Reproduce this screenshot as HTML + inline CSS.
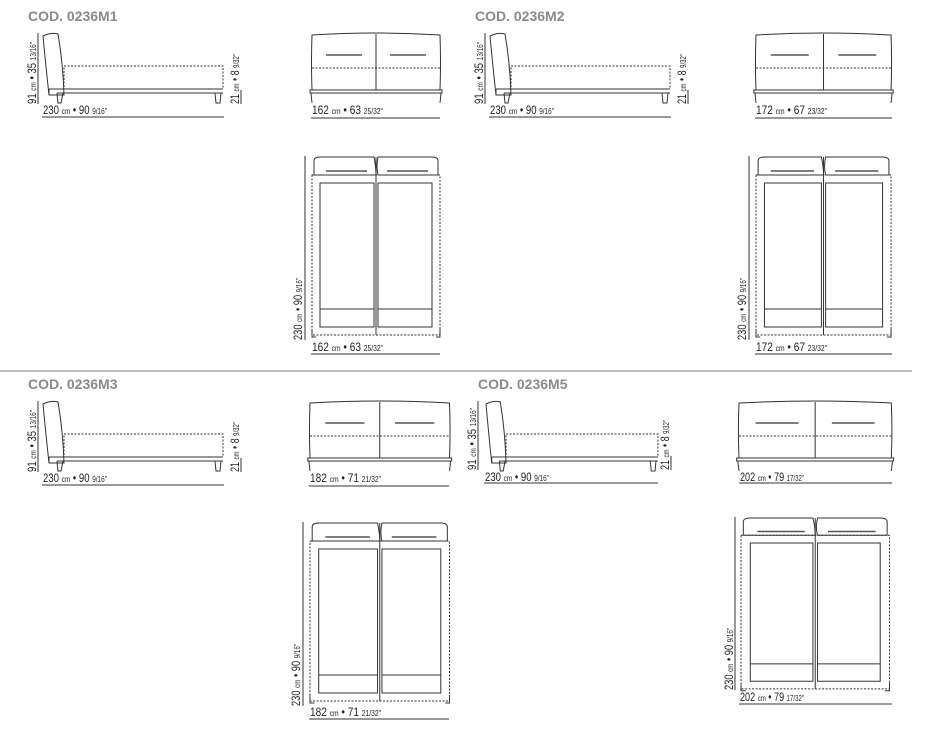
<!DOCTYPE html>
<html><head><meta charset="utf-8"><style>
html,body{margin:0;padding:0;background:#fff;}
svg{display:block;font-family:"Liberation Sans",sans-serif;}
.t{font-weight:bold;font-size:14px;fill:#8a8a8a;}
.d{font-size:12px;fill:#222;}
.s{font-size:8px;}
.l{stroke:#333;stroke-width:1;fill:none;vector-effect:non-scaling-stroke;}
.dot{stroke:#333;stroke-width:1;fill:none;stroke-dasharray:2 1.5;vector-effect:non-scaling-stroke;}
.h{stroke:#555;stroke-width:1.5;fill:none;vector-effect:non-scaling-stroke;}
</style></head><body>
<svg width="925" height="729" viewBox="0 0 925 729">
<defs>
<g id="side">
<path class="l" d="M0,3 Q8,-1 15,1 Q20,30 21,62 L6,62 Q3,35 0,3 Z"/>
<rect class="dot" x="21" y="33" width="159" height="23"/>
<path class="l" d="M6,56 L180,56 M14,60 L180,60 M6,62 L6,56"/>
<path class="l" d="M14,60 L15,70 L18,70 L20,60 M172,60 L173,70 L177,70 L178,60"/>
</g>
<g id="front">
<path class="l" d="M0,2 Q64,-2 128,2 Q129,30 128,57 L0,57 Q-1,30 0,2 Z M64,1 L64,57"/>
<path class="h" d="M14,22 L50,22 M78,22 L114,22"/>
<path class="dot" d="M0,35 L128,35"/>
<path class="l" d="M-2,57 L130,57 L130,60 L-2,60 Z M-1,60 L0,70 M129,60 L128,70"/>
</g>
<g id="top">
<path class="l" d="M2,4 Q2,0 8,0 L62,0 Q64,10 64,18 L2,18 Z M66,18 Q64,10 66,0 L120,0 Q126,0 126,4 L126,18 Z"/>
<path class="h" d="M14,14 L55,14 M75,14 L116,14"/>
<rect class="dot" x="0" y="18" width="128" height="160"/>
<path class="l" d="M8,26 L62,26 L62,170 L8,170 Z M66,26 L120,26 L120,170 L66,170 Z M8,152 L62,152 M66,152 L120,152 M64,0 L64,178"/>
<path class="l" d="M0,172 L0,180 L4,180 M128,172 L128,180 L124,180"/>
</g>
</defs>

<!-- M1 -->
<text class="t" x="28" y="21">COD. 0236M1</text>
<use href="#side" x="43" y="33"/>
<line class="l" x1="38" y1="33" x2="38" y2="104"/>
<text class="d" transform="translate(36,104) rotate(-90)" textLength="62" lengthAdjust="spacingAndGlyphs">91 <tspan class="s">cm</tspan> • 35 <tspan class="s">13/16"</tspan></text>
<text class="d" transform="translate(239,104) rotate(-90)" textLength="50" lengthAdjust="spacingAndGlyphs">21 <tspan class="s">cm</tspan> • 8 <tspan class="s">9/32"</tspan></text>
<line class="l" x1="241" y1="90" x2="241" y2="104"/>
<text class="d" x="43" y="114" textLength="64" lengthAdjust="spacingAndGlyphs">230 <tspan class="s">cm</tspan> • 90 <tspan class="s">9/16"</tspan></text>
<line class="l" x1="42" y1="117" x2="224" y2="117"/>
<use href="#front" transform="translate(312,33)"/>
<text class="d" x="312" y="114" textLength="71" lengthAdjust="spacingAndGlyphs">162 <tspan class="s">cm</tspan> • 63 <tspan class="s">25/32"</tspan></text>
<line class="l" x1="311" y1="118" x2="440" y2="118"/>
<use href="#top" transform="translate(312,157)"/>
<line class="l" x1="305" y1="156" x2="305" y2="340"/>
<text class="d" transform="translate(302,340) rotate(-90)" textLength="62" lengthAdjust="spacingAndGlyphs">230 <tspan class="s">cm</tspan> • 90 <tspan class="s">9/16"</tspan></text>
<text class="d" x="312" y="351" textLength="71" lengthAdjust="spacingAndGlyphs">162 <tspan class="s">cm</tspan> • 63 <tspan class="s">25/32"</tspan></text>
<line class="l" x1="311" y1="354" x2="440" y2="354"/>

<!-- M2 -->
<text class="t" x="475" y="21">COD. 0236M2</text>
<use href="#side" x="490" y="33"/>
<line class="l" x1="485" y1="33" x2="485" y2="104"/>
<text class="d" transform="translate(483,104) rotate(-90)" textLength="62" lengthAdjust="spacingAndGlyphs">91 <tspan class="s">cm</tspan> • 35 <tspan class="s">13/16"</tspan></text>
<text class="d" transform="translate(686,104) rotate(-90)" textLength="50" lengthAdjust="spacingAndGlyphs">21 <tspan class="s">cm</tspan> • 8 <tspan class="s">9/32"</tspan></text>
<line class="l" x1="688" y1="90" x2="688" y2="104"/>
<text class="d" x="490" y="114" textLength="64" lengthAdjust="spacingAndGlyphs">230 <tspan class="s">cm</tspan> • 90 <tspan class="s">9/16"</tspan></text>
<line class="l" x1="489" y1="117" x2="671" y2="117"/>
<use href="#front" transform="translate(756,33) scale(1.055,1)"/>
<text class="d" x="756" y="114" textLength="71" lengthAdjust="spacingAndGlyphs">172 <tspan class="s">cm</tspan> • 67 <tspan class="s">23/32"</tspan></text>
<line class="l" x1="755" y1="118" x2="892" y2="118"/>
<use href="#top" transform="translate(756,157) scale(1.055,1)"/>
<line class="l" x1="749" y1="156" x2="749" y2="340"/>
<text class="d" transform="translate(746,340) rotate(-90)" textLength="62" lengthAdjust="spacingAndGlyphs">230 <tspan class="s">cm</tspan> • 90 <tspan class="s">9/16"</tspan></text>
<text class="d" x="756" y="351" textLength="71" lengthAdjust="spacingAndGlyphs">172 <tspan class="s">cm</tspan> • 67 <tspan class="s">23/32"</tspan></text>
<line class="l" x1="755" y1="354" x2="892" y2="354"/>

<line x1="0" y1="371" x2="912" y2="371" stroke="#bbb" stroke-width="2"/>

<!-- M3 -->
<text class="t" x="28" y="389">COD. 0236M3</text>
<use href="#side" x="43" y="401"/>
<line class="l" x1="38" y1="401" x2="38" y2="472"/>
<text class="d" transform="translate(36,472) rotate(-90)" textLength="62" lengthAdjust="spacingAndGlyphs">91 <tspan class="s">cm</tspan> • 35 <tspan class="s">13/16"</tspan></text>
<text class="d" transform="translate(239,472) rotate(-90)" textLength="50" lengthAdjust="spacingAndGlyphs">21 <tspan class="s">cm</tspan> • 8 <tspan class="s">9/32"</tspan></text>
<line class="l" x1="241" y1="458" x2="241" y2="472"/>
<text class="d" x="43" y="482" textLength="64" lengthAdjust="spacingAndGlyphs">230 <tspan class="s">cm</tspan> • 90 <tspan class="s">9/16"</tspan></text>
<line class="l" x1="42" y1="485" x2="224" y2="485"/>
<use href="#front" transform="translate(310,401) scale(1.09,1)"/>
<text class="d" x="310" y="482" textLength="71" lengthAdjust="spacingAndGlyphs">182 <tspan class="s">cm</tspan> • 71 <tspan class="s">21/32"</tspan></text>
<line class="l" x1="309" y1="486" x2="449" y2="486"/>
<use href="#top" transform="translate(310,523) scale(1.09,1)"/>
<line class="l" x1="303" y1="522" x2="303" y2="706"/>
<text class="d" transform="translate(300,706) rotate(-90)" textLength="62" lengthAdjust="spacingAndGlyphs">230 <tspan class="s">cm</tspan> • 90 <tspan class="s">9/16"</tspan></text>
<text class="d" x="310" y="716" textLength="71" lengthAdjust="spacingAndGlyphs">182 <tspan class="s">cm</tspan> • 71 <tspan class="s">21/32"</tspan></text>
<line class="l" x1="309" y1="719" x2="449" y2="719"/>

<!-- M5 -->
<text class="t" x="478" y="389">COD. 0236M5</text>
<use href="#side" transform="translate(486,401) scale(0.955,1)"/>
<line class="l" x1="478" y1="401" x2="478" y2="470"/>
<text class="d" transform="translate(476,470) rotate(-90)" textLength="62" lengthAdjust="spacingAndGlyphs">91 <tspan class="s">cm</tspan> • 35 <tspan class="s">13/16"</tspan></text>
<text class="d" transform="translate(669,470) rotate(-90)" textLength="50" lengthAdjust="spacingAndGlyphs">21 <tspan class="s">cm</tspan> • 8 <tspan class="s">9/32"</tspan></text>
<line class="l" x1="671" y1="456" x2="671" y2="470"/>
<text class="d" x="485" y="481" textLength="64" lengthAdjust="spacingAndGlyphs">230 <tspan class="s">cm</tspan> • 90 <tspan class="s">9/16"</tspan></text>
<line class="l" x1="484" y1="483" x2="658" y2="483"/>
<use href="#front" transform="translate(739,401) scale(1.19,1)"/>
<text class="d" x="740" y="481" textLength="64" lengthAdjust="spacingAndGlyphs">202 <tspan class="s">cm</tspan> • 79 <tspan class="s">17/32"</tspan></text>
<line class="l" x1="739" y1="483" x2="892" y2="483"/>
<use href="#top" transform="translate(741,518) scale(1.16,0.96)"/>
<line class="l" x1="735" y1="517" x2="735" y2="690"/>
<text class="d" transform="translate(733,690) rotate(-90)" textLength="62" lengthAdjust="spacingAndGlyphs">230 <tspan class="s">cm</tspan> • 90 <tspan class="s">9/16"</tspan></text>
<text class="d" x="740" y="701" textLength="64" lengthAdjust="spacingAndGlyphs">202 <tspan class="s">cm</tspan> • 79 <tspan class="s">17/32"</tspan></text>
<line class="l" x1="739" y1="704" x2="892" y2="704"/>
</svg>
</body></html>
